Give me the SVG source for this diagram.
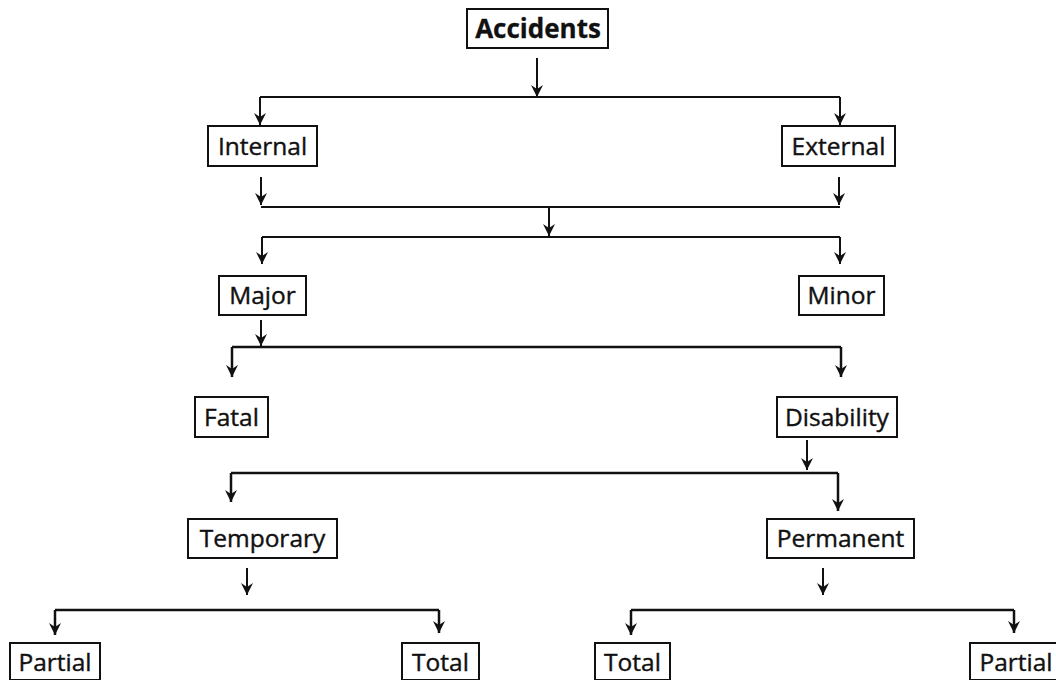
<svg xmlns="http://www.w3.org/2000/svg" width="1056" height="680" viewBox="0 0 1056 680">
  <style>
    .box { fill: #ffffff; stroke: #111111; stroke-width: 2; }
    .lbl { font-family: "Open Sans", "Noto Sans", "Liberation Sans", sans-serif; font-size: 24.5px; fill: #111111; stroke: #111111; stroke-width: 0.4; text-anchor: middle; }
    .bold { font-weight: bold; font-size: 26px; stroke-width: 0.3; }
    .wire { fill: none; stroke: #111111; stroke-width: 2; }
    .arr { fill: none; stroke: #111111; stroke-width: 2; marker-end: url(#head); }
    .thick { stroke-width: 2.5; }
  </style>
  <defs>
    <!-- arrowhead drawn pointing along +x, so orient="auto" turns it down the wire -->
    <marker id="head" markerUnits="userSpaceOnUse" markerWidth="14" markerHeight="14" viewBox="-13 -7 14 14" refX="0" refY="0" orient="auto">
      <path d="M0,0 L-12,-6 L-8,0 L-12,6 Z" fill="#111111"/>
    </marker>
  </defs>
  <rect width="1056" height="680" fill="#ffffff"/>

  <!-- connectors -->
  <g id="connectors">
    <path class="arr" d="M537,58 V97"/>
    <path class="wire" d="M260,97 H840"/>
    <path class="arr" d="M260,97 V125"/>
    <path class="arr" d="M840,97 V125"/>

    <path class="arr" d="M261,177 V205"/>
    <path class="arr" d="M839,177 V205"/>
    <path class="wire" d="M261,207 H840"/>
    <path class="arr" d="M549,207 V236"/>
    <path class="wire" d="M262,237 H840"/>
    <path class="arr" d="M262,237 V264"/>
    <path class="arr" d="M840,237 V264"/>

    <path class="arr" d="M261,320 V346"/>
    <path class="wire thick" d="M232,347 H841"/>
    <path class="arr thick" d="M232,347 V377"/>
    <path class="arr thick" d="M841,347 V377"/>

    <path class="arr" d="M807,440 V470"/>
    <path class="wire thick" d="M231,473 H838"/>
    <path class="arr thick" d="M231,473 V502"/>
    <path class="arr thick" d="M838,473 V511"/>

    <path class="arr" d="M247,568 V595"/>
    <path class="wire thick" d="M55,610 H439"/>
    <path class="arr thick" d="M55,610 V635"/>
    <path class="arr thick" d="M439,610 V633"/>

    <path class="arr" d="M823,568 V595"/>
    <path class="wire thick" d="M631,610 H1014"/>
    <path class="arr thick" d="M631,610 V635"/>
    <path class="arr thick" d="M1014,610 V633"/>
  </g>

  <!-- nodes -->
  <g id="accidents">
    <rect class="box" x="467" y="9" width="141" height="39"/>
    <text class="lbl bold" x="538" y="38">Accidents</text>
  </g>
  <g id="internal">
    <rect class="box" x="208" y="126" width="109" height="40"/>
    <text class="lbl" x="262.5" y="155">Internal</text>
  </g>
  <g id="external">
    <rect class="box" x="782" y="126" width="113" height="40"/>
    <text class="lbl" x="838.5" y="155">External</text>
  </g>
  <g id="major">
    <rect class="box" x="219" y="276" width="87" height="39"/>
    <text class="lbl" x="262.5" y="304">Major</text>
  </g>
  <g id="minor">
    <rect class="box" x="799" y="276" width="85" height="39"/>
    <text class="lbl" x="841.5" y="304">Minor</text>
  </g>
  <g id="fatal">
    <rect class="box" x="195" y="397" width="73" height="40"/>
    <text class="lbl" x="231.5" y="426">Fatal</text>
  </g>
  <g id="disability">
    <rect class="box" x="777" y="397" width="120" height="40"/>
    <text class="lbl" x="837" y="426">Disability</text>
  </g>
  <g id="temporary">
    <rect class="box" x="188" y="519" width="149" height="39"/>
    <text class="lbl" x="262.5" y="547">Temporary</text>
  </g>
  <g id="permanent">
    <rect class="box" x="767" y="519" width="147" height="39"/>
    <text class="lbl" x="840.5" y="547">Permanent</text>
  </g>
  <g id="temp-partial">
    <rect class="box" x="10" y="643" width="90" height="37"/>
    <text class="lbl" x="55" y="671">Partial</text>
  </g>
  <g id="temp-total">
    <rect class="box" x="402" y="643" width="77" height="37"/>
    <text class="lbl" x="440.5" y="671">Total</text>
  </g>
  <g id="perm-total">
    <rect class="box" x="595" y="643" width="75" height="37"/>
    <text class="lbl" x="632.5" y="671">Total</text>
  </g>
  <g id="perm-partial">
    <rect class="box" x="970" y="643" width="92" height="37"/>
    <text class="lbl" x="1016" y="671">Partial</text>
  </g>
</svg>
